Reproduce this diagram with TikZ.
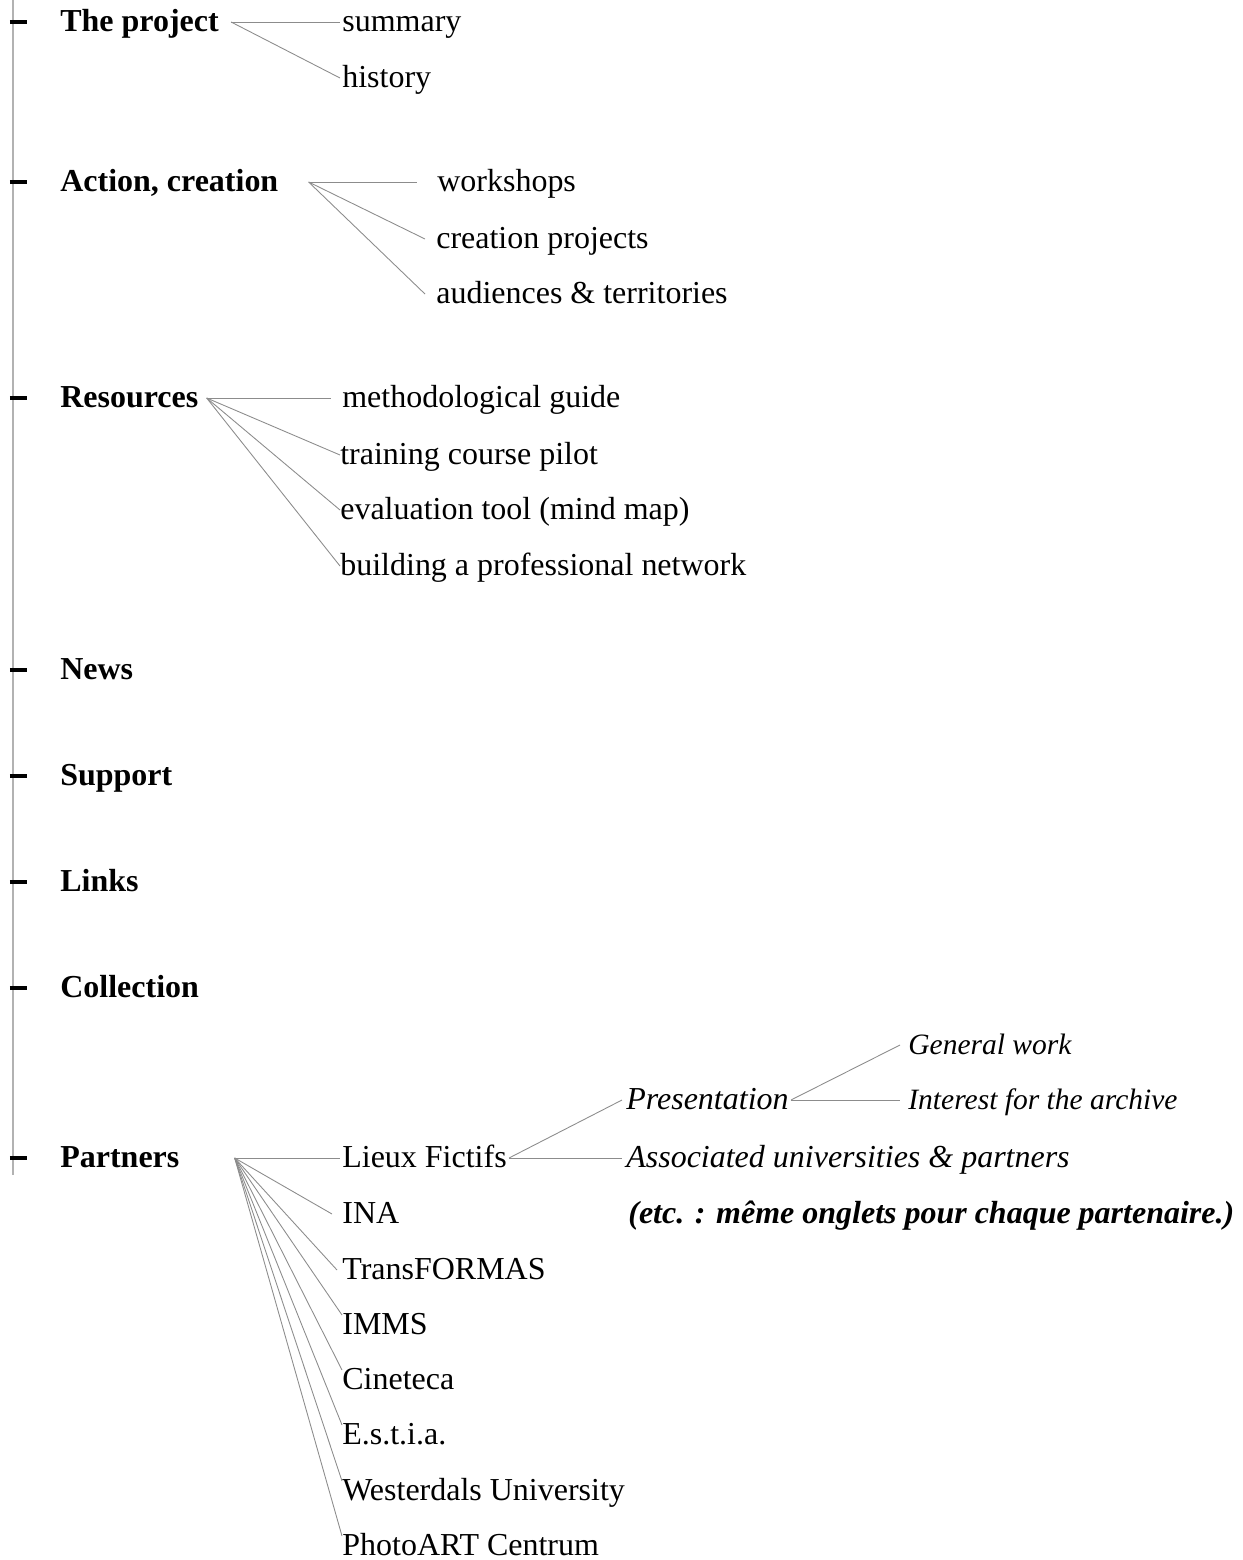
\documentclass[tikz,border=0pt]{standalone}
\usepackage{fontspec}
\setmainfont{Liberation Serif}

\begin{document}
\begin{tikzpicture}[
    heading/.style={
        anchor=west,
        inner sep=0pt,
        text height=1.2em,
        text depth=0.09em,
        font=\fontsize{18.2}{22}\selectfont\bfseries
    },
    entry/.style={
        anchor=west,
        inner sep=0pt,
        text height=1.2em,
        text depth=0.09em,
        font=\fontsize{18.2}{22}\selectfont
    },
    subentry/.style={entry, font=\fontsize{18.2}{22}\selectfont\itshape},
    smallentry/.style={entry, font=\fontsize{16.8}{20}\selectfont\itshape},
    branch/.style={draw=black!45, line width=0.5pt},
    tick/.style={draw=black, line width=2pt},
    trunk/.style={draw=black!30, line width=1.1pt}
]

\useasboundingbox (0,0) rectangle (24.84,-31.2);

% main tabs
\node[heading] (project) at (1.2,-0.44) {The project};
\node[heading] (action) at (1.2,-3.64) {Action, creation};
\node[heading] (resources) at (1.2,-7.96) {Resources};
\node[heading] (news) at (1.2,-13.4) {News};
\node[heading] (support) at (1.2,-15.52) {Support};
\node[heading] (links) at (1.2,-17.64) {Links};
\node[heading] (collection) at (1.2,-19.76) {Collection};
\node[heading] (partners) at (1.2,-23.16) {Partners};

\coordinate (top) at (0.254,0);
\coordinate (bottom) at (0.254,-23.5);
\draw[trunk] (top) -- (bottom);

\draw[tick] ([xshift=-1cm]project.west) -- ([xshift=-0.66cm]project.west);
\draw[tick] ([xshift=-1cm]action.west) -- ([xshift=-0.66cm]action.west);
\draw[tick] ([xshift=-1cm]resources.west) -- ([xshift=-0.66cm]resources.west);
\draw[tick] ([xshift=-1cm]news.west) -- ([xshift=-0.66cm]news.west);
\draw[tick] ([xshift=-1cm]support.west) -- ([xshift=-0.66cm]support.west);
\draw[tick] ([xshift=-1cm]links.west) -- ([xshift=-0.66cm]links.west);
\draw[tick] ([xshift=-1cm]collection.west) -- ([xshift=-0.66cm]collection.west);
\draw[tick] ([xshift=-1cm]partners.west) -- ([xshift=-0.66cm]partners.west);

% the project
\node[entry] (summary) at (6.84,-0.44) {summary};
\node[entry] (history) at (6.84,-1.56) {history};
\draw[branch] ([xshift=0.24cm]project.east) -- ([xshift=-0.04cm]summary.west);
\draw[branch] ([xshift=0.24cm]project.east) -- ([xshift=-0.04cm]history.west);

% action, creation
\node[entry] (workshops) at (8.74,-3.64) {workshops};
\node[entry] (creation) at (8.72,-4.78) {creation projects};
\node[entry] (audiences) at (8.72,-5.88) {audiences \& territories};
\draw[branch] ([xshift=0.6cm]action.east) -- ([xshift=-0.4cm]workshops.west);
\draw[branch] ([xshift=0.6cm]action.east) -- ([xshift=-0.22cm]creation.west);
\draw[branch] ([xshift=0.6cm]action.east) -- ([xshift=-0.22cm]audiences.west);

% resources
\node[entry] (guide) at (6.84,-7.96) {methodological guide};
\node[entry] (training) at (6.8,-9.1) {training course pilot};
\node[entry] (evaluation) at (6.8,-10.2) {evaluation tool (mind map)};
\node[entry] (network) at (6.8,-11.32) {building a professional network};
\draw[branch] ([xshift=0.16cm]resources.east) -- ([xshift=-0.22cm]guide.west);
\draw[branch] ([xshift=0.16cm]resources.east) -- (training.west);
\draw[branch] ([xshift=0.16cm]resources.east) -- (evaluation.west);
\draw[branch] ([xshift=0.16cm]resources.east) -- (network.west);

% partners
\node[entry] (lieux) at (6.84,-23.16) {Lieux Fictifs};
\node[entry] (ina) at (6.84,-24.28) {INA};
\node[entry] (transformas) at (6.84,-25.4) {TransFORMAS};
\node[entry] (imms) at (6.84,-26.5) {IMMS};
\node[entry] (cineteca) at (6.84,-27.6) {Cineteca};
\node[entry] (estia) at (6.84,-28.7) {E.s.t.i.a.};
\node[entry] (westerdals) at (6.84,-29.82) {Westerdals University};
\node[entry] (photoart) at (6.84,-30.92) {PhotoART Centrum};
\draw[branch] ([xshift=1.1cm]partners.east) -- ([xshift=-0.04cm]lieux.west);
\draw[branch] ([xshift=1.1cm]partners.east) -- ([xshift=-0.2cm]ina.west);
\draw[branch] ([xshift=1.1cm]partners.east) -- ([xshift=-0.1cm]transformas.west);
\draw[branch] ([xshift=1.1cm]partners.east) -- ([yshift=0.2cm]imms.west);
\draw[branch] ([xshift=1.1cm]partners.east) -- ([yshift=0.2cm]cineteca.west);
\draw[branch] ([xshift=1.1cm]partners.east) -- ([yshift=0.2cm]estia.west);
\draw[branch] ([xshift=1.1cm]partners.east) -- ([yshift=0.2cm]westerdals.west);
\draw[branch] ([xshift=1.1cm]partners.east) -- ([yshift=0.2cm]photoart.west);

% one partner's tabs
\node[subentry] (presentation) at (12.52,-22.0) {Presentation};
\node[subentry] (associated) at (12.52,-23.16) {Associated universities \& partners};
\node[smallentry] (general) at (18.16,-20.9) {General work};
\node[smallentry] (interest) at (18.16,-22.0) {Interest for the archive};
\draw[branch] ([xshift=0.04cm]lieux.east) -- ([xshift=-0.08cm]presentation.west);
\draw[branch] ([xshift=0.04cm]lieux.east) -- ([xshift=-0.08cm]associated.west);
\draw[branch] ([xshift=0.04cm]presentation.east) -- ([xshift=-0.16cm]general.west);
\draw[branch] ([xshift=0.04cm]presentation.east) -- ([xshift=-0.16cm]interest.west);

\node[entry, font=\fontsize{18.2}{22}\selectfont\bfseries\itshape] (etc) at (12.56,-24.28) {(etc. : même onglets pour chaque partenaire.)};

\end{tikzpicture}
\end{document}
